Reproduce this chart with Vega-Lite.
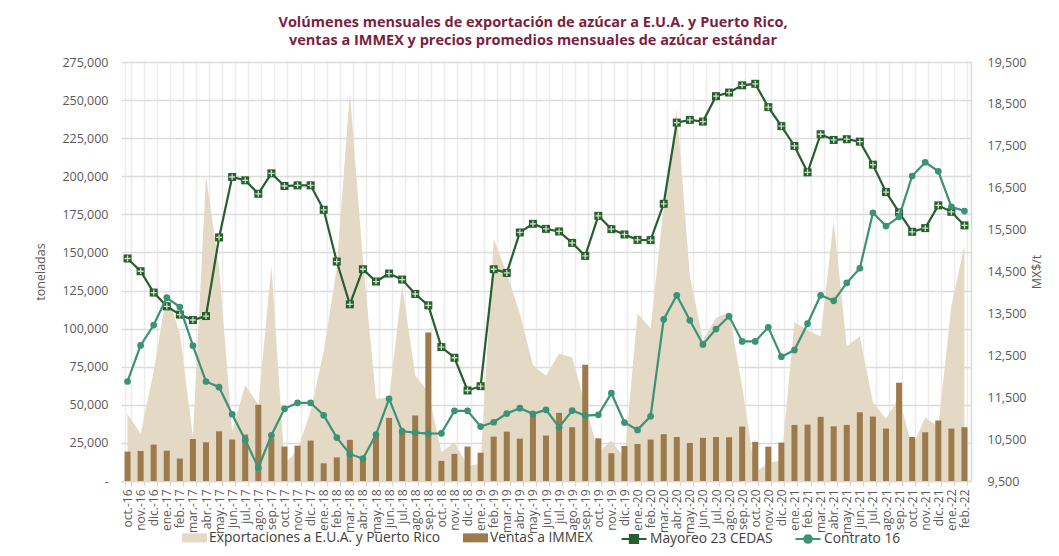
{
  "$schema": "https://vega.github.io/schema/vega-lite/v6.json",
  "width": 850,
  "height": 419,
  "autosize": {"type": "none"},
  "padding": {"left": 121, "top": 62, "right": 88, "bottom": 75},
  "background": "white",
  "config": {"font": "Open Sans", "view": {"stroke": null}},
  "title": {
    "text": ["Volúmenes mensuales de exportación de azúcar a E.U.A. y Puerto Rico,", "ventas a IMMEX y precios promedios mensuales de azúcar estándar"],
    "color": "#7b1f3f", "fontSize": 14.5, "fontWeight": "bold", "font": "Open Sans",
    "anchor": "middle", "dx": -13, "offset": 8, "lineHeight": 18
  },
  "data": {"values": [
    {"mes": "oct.-16", "exportaciones": 44000, "immex": 19300, "mayoreo": 14810, "contrato": 11875},
    {"mes": "nov.-16", "exportaciones": 31000, "immex": 19700, "mayoreo": 14506, "contrato": 12736},
    {"mes": "dic.-16", "exportaciones": 72000, "immex": 23900, "mayoreo": 13997, "contrato": 13222},
    {"mes": "ene.-17", "exportaciones": 123000, "immex": 19900, "mayoreo": 13669, "contrato": 13877},
    {"mes": "feb.-17", "exportaciones": 97000, "immex": 14700, "mayoreo": 13471, "contrato": 13653},
    {"mes": "mar.-17", "exportaciones": 29000, "immex": 27600, "mayoreo": 13342, "contrato": 12729},
    {"mes": "abr.-17", "exportaciones": 200000, "immex": 25400, "mayoreo": 13437, "contrato": 11875},
    {"mes": "may.-17", "exportaciones": 140000, "immex": 32600, "mayoreo": 15313, "contrato": 11739},
    {"mes": "jun.-17", "exportaciones": 33000, "immex": 27200, "mayoreo": 16755, "contrato": 11093},
    {"mes": "jul.-17", "exportaciones": 63000, "immex": 30500, "mayoreo": 16676, "contrato": 10481},
    {"mes": "ago.-17", "exportaciones": 50000, "immex": 50000, "mayoreo": 16355, "contrato": 9818},
    {"mes": "sep.-17", "exportaciones": 141000, "immex": 28000, "mayoreo": 16843, "contrato": 10591},
    {"mes": "oct.-17", "exportaciones": 11500, "immex": 22600, "mayoreo": 16540, "contrato": 11222},
    {"mes": "nov.-17", "exportaciones": 20000, "immex": 23200, "mayoreo": 16556, "contrato": 11366},
    {"mes": "dic.-17", "exportaciones": 46000, "immex": 26500, "mayoreo": 16556, "contrato": 11366},
    {"mes": "ene.-18", "exportaciones": 85000, "immex": 11600, "mayoreo": 15973, "contrato": 11069},
    {"mes": "feb.-18", "exportaciones": 140000, "immex": 15500, "mayoreo": 14738, "contrato": 10536},
    {"mes": "mar.-18", "exportaciones": 255000, "immex": 27000, "mayoreo": 13717, "contrato": 10146},
    {"mes": "abr.-18", "exportaciones": 145000, "immex": 14000, "mayoreo": 14554, "contrato": 10033},
    {"mes": "may.-18", "exportaciones": 54000, "immex": 30000, "mayoreo": 14260, "contrato": 10607},
    {"mes": "jun.-18", "exportaciones": 54600, "immex": 41400, "mayoreo": 14451, "contrato": 11461},
    {"mes": "jul.-18", "exportaciones": 128500, "immex": 31500, "mayoreo": 14308, "contrato": 10686},
    {"mes": "ago.-18", "exportaciones": 69000, "immex": 43000, "mayoreo": 13963, "contrato": 10655},
    {"mes": "sep.-18", "exportaciones": 58300, "immex": 97500, "mayoreo": 13693, "contrato": 10631},
    {"mes": "oct.-18", "exportaciones": 18800, "immex": 13200, "mayoreo": 12696, "contrato": 10639},
    {"mes": "nov.-18", "exportaciones": 25400, "immex": 17800, "mayoreo": 12442, "contrato": 11174},
    {"mes": "dic.-18", "exportaciones": 10000, "immex": 22600, "mayoreo": 11660, "contrato": 11174},
    {"mes": "ene.-19", "exportaciones": 11200, "immex": 18600, "mayoreo": 11763, "contrato": 10799},
    {"mes": "feb.-19", "exportaciones": 159000, "immex": 29100, "mayoreo": 14554, "contrato": 10902},
    {"mes": "mar.-19", "exportaciones": 136000, "immex": 32400, "mayoreo": 14466, "contrato": 11110},
    {"mes": "abr.-19", "exportaciones": 110000, "immex": 27800, "mayoreo": 15432, "contrato": 11237},
    {"mes": "may.-19", "exportaciones": 76000, "immex": 43000, "mayoreo": 15638, "contrato": 11103},
    {"mes": "jun.-19", "exportaciones": 69000, "immex": 29800, "mayoreo": 15518, "contrato": 11198},
    {"mes": "jul.-19", "exportaciones": 83500, "immex": 44700, "mayoreo": 15456, "contrato": 10782},
    {"mes": "ago.-19", "exportaciones": 81000, "immex": 35300, "mayoreo": 15183, "contrato": 11182},
    {"mes": "sep.-19", "exportaciones": 50000, "immex": 76300, "mayoreo": 14872, "contrato": 11062},
    {"mes": "oct.-19", "exportaciones": 18800, "immex": 28000, "mayoreo": 15829, "contrato": 11079},
    {"mes": "nov.-19", "exportaciones": 26500, "immex": 18200, "mayoreo": 15511, "contrato": 11595},
    {"mes": "dic.-19", "exportaciones": 15000, "immex": 23000, "mayoreo": 15384, "contrato": 10895},
    {"mes": "ene.-20", "exportaciones": 110000, "immex": 24300, "mayoreo": 15255, "contrato": 10720},
    {"mes": "feb.-20", "exportaciones": 100000, "immex": 27200, "mayoreo": 15248, "contrato": 11045},
    {"mes": "mar.-20", "exportaciones": 180000, "immex": 30700, "mayoreo": 16116, "contrato": 13358},
    {"mes": "abr.-20", "exportaciones": 244000, "immex": 28900, "mayoreo": 18054, "contrato": 13932},
    {"mes": "may.-20", "exportaciones": 135000, "immex": 25000, "mayoreo": 18118, "contrato": 13334},
    {"mes": "jun.-20", "exportaciones": 92300, "immex": 28300, "mayoreo": 18078, "contrato": 12760},
    {"mes": "jul.-20", "exportaciones": 107000, "immex": 28900, "mayoreo": 18685, "contrato": 13126},
    {"mes": "ago.-20", "exportaciones": 111000, "immex": 28700, "mayoreo": 18771, "contrato": 13430},
    {"mes": "sep.-20", "exportaciones": 62000, "immex": 35700, "mayoreo": 18944, "contrato": 12832},
    {"mes": "oct.-20", "exportaciones": 5500, "immex": 25700, "mayoreo": 18980, "contrato": 12832},
    {"mes": "nov.-20", "exportaciones": 12000, "immex": 22600, "mayoreo": 18422, "contrato": 13167},
    {"mes": "dic.-20", "exportaciones": 13400, "immex": 25200, "mayoreo": 17968, "contrato": 12466},
    {"mes": "ene.-21", "exportaciones": 104400, "immex": 36800, "mayoreo": 17497, "contrato": 12624},
    {"mes": "feb.-21", "exportaciones": 99000, "immex": 37000, "mayoreo": 16867, "contrato": 13255},
    {"mes": "mar.-21", "exportaciones": 95000, "immex": 42100, "mayoreo": 17776, "contrato": 13932},
    {"mes": "abr.-21", "exportaciones": 171000, "immex": 35900, "mayoreo": 17640, "contrato": 13801},
    {"mes": "may.-21", "exportaciones": 88400, "immex": 36800, "mayoreo": 17657, "contrato": 14227},
    {"mes": "jun.-21", "exportaciones": 95000, "immex": 45100, "mayoreo": 17599, "contrato": 14578},
    {"mes": "jul.-21", "exportaciones": 51700, "immex": 42300, "mayoreo": 17049, "contrato": 15901},
    {"mes": "ago.-21", "exportaciones": 40800, "immex": 34400, "mayoreo": 16396, "contrato": 15583},
    {"mes": "sep.-21", "exportaciones": 55000, "immex": 64500, "mayoreo": 15911, "contrato": 15805},
    {"mes": "oct.-21", "exportaciones": 22000, "immex": 28900, "mayoreo": 15447, "contrato": 16779},
    {"mes": "nov.-21", "exportaciones": 41800, "immex": 32000, "mayoreo": 15535, "contrato": 17107},
    {"mes": "dic.-21", "exportaciones": 35500, "immex": 39700, "mayoreo": 16078, "contrato": 16891},
    {"mes": "ene.-22", "exportaciones": 115000, "immex": 34400, "mayoreo": 15925, "contrato": 16045},
    {"mes": "feb.-22", "exportaciones": 154800, "immex": 35300, "mayoreo": 15600, "contrato": 15942}
  ]},
  "encoding": {
    "x": {
      "field": "mes", "type": "ordinal", "sort": null,
      "scale": {"paddingInner": 0.54, "paddingOuter": 0.27},
      "axis": {
        "title": null, "labelAngle": -90, "labelFontSize": 12, "labelColor": "#595959", "labelFont": "Open Sans",
        "tickBand": "extent", "grid": true, "gridColor": "#ececec", "gridWidth": 1.5,
        "ticks": true, "tickColor": "#d9d9d9", "tickSize": 5, "tickWidth": 1.3,
        "domainColor": "#d9d9d9", "domainWidth": 1.5, "labelPadding": 3
      }
    }
  },
  "layer": [
    {
      "layer": [
        {
          "mark": {"type": "area", "opacity": 1},
          "encoding": {
            "y": {
              "field": "exportaciones", "type": "quantitative",
              "scale": {"domain": [0, 275000], "nice": false},
              "axis": {
                "values": [0, 25000, 50000, 75000, 100000, 125000, 150000, 175000, 200000, 225000, 250000, 275000],
                "labelExpr": "datum.value == 0 ? '-' : format(datum.value, ',')",
                "title": "toneladas", "titleFontWeight": "normal", "titleFontSize": 12.5, "titleColor": "#595959", "titleFont": "Open Sans",
                "labelColor": "#595959", "labelFontSize": 12.5, "labelFont": "Open Sans",
                "ticks": false, "domain": false, "grid": true, "gridColor": "#dcdcdc", "gridWidth": 1.5,
                "labelPadding": 13, "titlePadding": 14
              }
            },
            "fill": {
              "datum": "Exportaciones a E.U.A. y Puerto Rico",
              "scale": {"domain": ["Exportaciones a E.U.A. y Puerto Rico", "Ventas a IMMEX"], "range": ["#e4d9c5", "#9c7a4b"]},
              "legend": {
                "orient": "none", "legendX": 61, "legendY": 463, "direction": "horizontal", "columns": 2,
                "title": null, "symbolType": "M-1,-0.36H1V0.36H-1Z", "symbolSize": 625, "symbolStrokeWidth": 0,
                "labelFontSize": 13.8, "labelColor": "#404040", "labelFont": "Open Sans",
                "labelLimit": 400, "columnPadding": 22, "labelOffset": 2, "padding": 0
              }
            }
          }
        },
        {
          "mark": {"type": "bar"},
          "encoding": {
            "y": {
              "field": "immex", "type": "quantitative",
              "axis": {
                "values": [0, 25000, 50000, 75000, 100000, 125000, 150000, 175000, 200000, 225000, 250000, 275000],
                "labelExpr": "datum.value == 0 ? '-' : format(datum.value, ',')",
                "title": "toneladas", "titleFontWeight": "normal", "titleFontSize": 12.5, "titleColor": "#595959", "titleFont": "Open Sans",
                "labelColor": "#595959", "labelFontSize": 12.5, "labelFont": "Open Sans",
                "ticks": false, "domain": false, "grid": true, "gridColor": "#dcdcdc", "gridWidth": 1.5,
                "labelPadding": 13, "titlePadding": 14
              }
            },
            "fill": {
              "datum": "Ventas a IMMEX",
              "legend": {
                "orient": "none", "legendX": 61, "legendY": 463, "direction": "horizontal", "columns": 2,
                "title": null, "symbolType": "M-1,-0.36H1V0.36H-1Z", "symbolSize": 625, "symbolStrokeWidth": 0,
                "labelFontSize": 13.8, "labelColor": "#404040", "labelFont": "Open Sans",
                "labelLimit": 400, "columnPadding": 22, "labelOffset": 2, "padding": 0
              }
            }
          }
        }
      ]
    },
    {
      "layer": [
        {
          "mark": {"type": "line", "strokeWidth": 2.2},
          "encoding": {
            "y": {
              "field": "mayoreo", "type": "quantitative",
              "scale": {"domain": [9500, 19500], "nice": false},
              "axis": {
                "orient": "right",
                "values": [9500, 10500, 11500, 12500, 13500, 14500, 15500, 16500, 17500, 18500, 19500],
                "labelExpr": "format(datum.value, ',')", "title": "MX$/t", "titleAngle": 270, "titleBaseline": "top", "titleFontWeight": "normal", "titleFontSize": 12.5,
                "titleColor": "#595959", "titleFont": "Open Sans",
                "labelColor": "#595959", "labelFontSize": 12.5, "labelFont": "Open Sans",
                "grid": false, "ticks": false, "domain": true, "domainColor": "#d9d9d9", "domainWidth": 1.5,
                "labelPadding": 16, "titlePadding": 5
              }
            },
            "stroke": {
              "datum": "Mayoreo 23 CEDAS",
              "scale": {"domain": ["Mayoreo 23 CEDAS"], "range": ["#265e2f"]},
              "legend": {
                "orient": "none", "legendX": 499, "legendY": 463, "direction": "horizontal",
                "title": null, "symbolType": "M-1,0H1M-0.32,-0.32H0.32V0.32H-0.32Z", "symbolSize": 625, "symbolStrokeWidth": 2.2,
                "symbolFillColor": "#265e2f",
                "labelFontSize": 13.8, "labelColor": "#404040", "labelFont": "Open Sans",
                "labelLimit": 400, "labelOffset": 2, "padding": 0
              }
            }
          }
        },
        {
          "mark": {"type": "point", "shape": "square", "filled": true, "size": 64, "opacity": 1, "color": "#265e2f"},
          "encoding": {
            "y": {
              "field": "mayoreo", "type": "quantitative",
              "axis": {
                "orient": "right",
                "values": [9500, 10500, 11500, 12500, 13500, 14500, 15500, 16500, 17500, 18500, 19500],
                "labelExpr": "format(datum.value, ',')", "title": "MX$/t", "titleAngle": 270, "titleBaseline": "top", "titleFontWeight": "normal", "titleFontSize": 12.5,
                "titleColor": "#595959", "titleFont": "Open Sans",
                "labelColor": "#595959", "labelFontSize": 12.5, "labelFont": "Open Sans",
                "grid": false, "ticks": false, "domain": true, "domainColor": "#d9d9d9", "domainWidth": 1.5,
                "labelPadding": 16, "titlePadding": 5
              }
            }
          }
        },
        {
          "mark": {"type": "point", "shape": "M-0.75,0H0.75M0,-0.75V0.75", "filled": false, "size": 64, "stroke": "#cfe3c2", "strokeWidth": 1.3, "opacity": 1},
          "encoding": {
            "y": {
              "field": "mayoreo", "type": "quantitative",
              "axis": {
                "orient": "right",
                "values": [9500, 10500, 11500, 12500, 13500, 14500, 15500, 16500, 17500, 18500, 19500],
                "labelExpr": "format(datum.value, ',')", "title": "MX$/t", "titleAngle": 270, "titleBaseline": "top", "titleFontWeight": "normal", "titleFontSize": 12.5,
                "titleColor": "#595959", "titleFont": "Open Sans",
                "labelColor": "#595959", "labelFontSize": 12.5, "labelFont": "Open Sans",
                "grid": false, "ticks": false, "domain": true, "domainColor": "#d9d9d9", "domainWidth": 1.5,
                "labelPadding": 16, "titlePadding": 5
              }
            }
          }
        },
        {
          "mark": {"type": "line", "strokeWidth": 2.2},
          "encoding": {
            "y": {
              "field": "contrato", "type": "quantitative",
              "axis": {
                "orient": "right",
                "values": [9500, 10500, 11500, 12500, 13500, 14500, 15500, 16500, 17500, 18500, 19500],
                "labelExpr": "format(datum.value, ',')", "title": "MX$/t", "titleAngle": 270, "titleBaseline": "top", "titleFontWeight": "normal", "titleFontSize": 12.5,
                "titleColor": "#595959", "titleFont": "Open Sans",
                "labelColor": "#595959", "labelFontSize": 12.5, "labelFont": "Open Sans",
                "grid": false, "ticks": false, "domain": true, "domainColor": "#d9d9d9", "domainWidth": 1.5,
                "labelPadding": 16, "titlePadding": 5
              }
            },
            "color": {
              "datum": "Contrato 16",
              "scale": {"domain": ["Contrato 16"], "range": ["#3b9276"]},
              "legend": {
                "orient": "none", "legendX": 673, "legendY": 463, "direction": "horizontal",
                "title": null, "symbolType": "M-1,0H1M0.3,0A0.3,0.3,0,1,1,-0.3,0A0.3,0.3,0,1,1,0.3,0Z", "symbolSize": 625, "symbolStrokeWidth": 2.2,
                "symbolFillColor": "#3b9276",
                "labelFontSize": 13.8, "labelColor": "#404040", "labelFont": "Open Sans",
                "labelLimit": 400, "labelOffset": 2, "padding": 0
              }
            }
          }
        },
        {
          "mark": {"type": "point", "shape": "circle", "filled": true, "size": 45, "opacity": 1, "color": "#3b9276"},
          "encoding": {
            "y": {
              "field": "contrato", "type": "quantitative",
              "axis": {
                "orient": "right",
                "values": [9500, 10500, 11500, 12500, 13500, 14500, 15500, 16500, 17500, 18500, 19500],
                "labelExpr": "format(datum.value, ',')", "title": "MX$/t", "titleAngle": 270, "titleBaseline": "top", "titleFontWeight": "normal", "titleFontSize": 12.5,
                "titleColor": "#595959", "titleFont": "Open Sans",
                "labelColor": "#595959", "labelFontSize": 12.5, "labelFont": "Open Sans",
                "grid": false, "ticks": false, "domain": true, "domainColor": "#d9d9d9", "domainWidth": 1.5,
                "labelPadding": 16, "titlePadding": 5
              }
            }
          }
        }
      ]
    }
  ],
  "resolve": {"scale": {"y": "independent"}}
}
